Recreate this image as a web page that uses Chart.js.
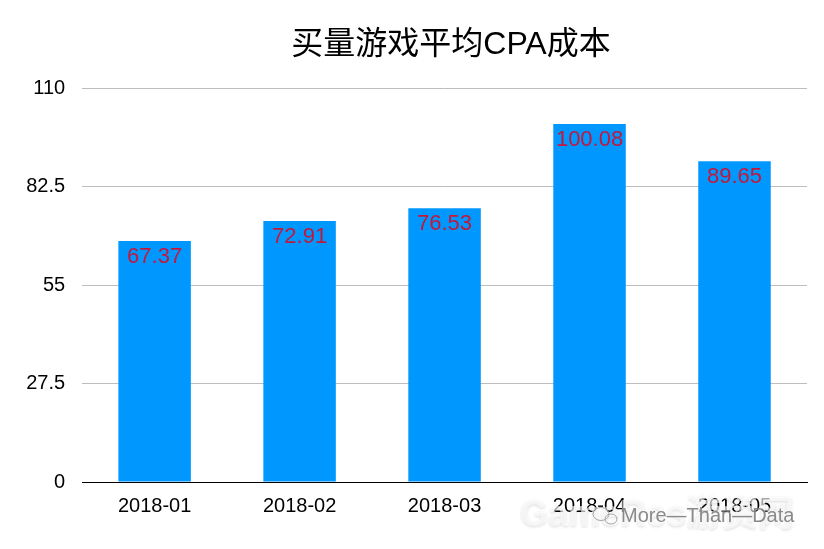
<!DOCTYPE html>
<html><head><meta charset="utf-8">
<style>html,body{margin:0;padding:0;background:#fff}canvas{display:block}</style>
<script src="https://cdn.jsdelivr.net/npm/chart.js@4"></script></head>
<body><canvas id="c" width="824" height="549" style="width:824px;height:549px"></canvas>
<script>
const categories=["2018-01","2018-02","2018-03","2018-04","2018-05"];
const values=[67.37,72.91,76.53,100.08,89.65];
const tickLabels=[0,27.5,55,82.5,110];
const titleText="买量游戏平均CPA成本";
const watermarkMain="GameRes游资网";
const watermarkSub="More—Than—Data";
const font='"Liberation Sans","Noto Sans CJK SC",sans-serif';
const labelPlugin={id:"barLabels",
 afterLayout(ch){const t=ch.titleBlock,d=451-(t.left+t.right)/2;t.left+=d;t.right+=d;},
 afterDraw(ch){
  const m=ch.getDatasetMeta(0),x=ch.ctx;x.save();
  x.font='22px '+font;x.fillStyle="#c2183a";x.textAlign="center";x.textBaseline="middle";
  m.data.forEach((b,i)=>x.fillText(values[i].toFixed(2),b.x,b.y+16));
  x.textAlign="left";
  x.font='bold 36px '+font;x.fillStyle="rgba(255,255,255,0.65)";
  x.shadowColor="rgba(0,0,0,0.22)";x.shadowBlur=3;x.shadowOffsetY=1;
  x.fillText(watermarkMain,520,516);
  x.shadowColor="rgba(255,255,255,0.9)";x.shadowBlur=2;x.shadowOffsetY=0;
  x.strokeStyle="rgba(130,130,130,0.7)";x.lineWidth=1;
  x.beginPath();x.ellipse(601,514,8,6.5,0,0,Math.PI*2);x.stroke();
  x.beginPath();x.ellipse(611,519,6,5,0,0,Math.PI*2);x.stroke();
  x.font='20px '+font;x.fillStyle="rgba(110,110,110,0.8)";
  x.fillText(watermarkSub,621,516);
  x.restore();}};
new Chart(document.getElementById("c"),{type:"bar",
 data:{labels:categories,datasets:[{data:values,backgroundColor:"#0098ff",categoryPercentage:0.5,barPercentage:1}]},
 plugins:[labelPlugin],
 options:{responsive:false,animation:false,devicePixelRatio:1,
  layout:{padding:{left:9.2,right:17,top:0,bottom:27}},
  plugins:{legend:{display:false},tooltip:{enabled:false},
   title:{display:true,text:titleText,color:"#000",fullSize:false,font:{family:font,size:32,weight:"normal"},padding:{top:26,bottom:24}}},
  scales:{
   x:{grid:{display:false},border:{color:"#000"},ticks:{color:"#000",font:{family:font,size:20},padding:4}},
   y:{min:0,max:110,afterBuildTicks(a){a.ticks=tickLabels.map(v=>({value:v}));},
      grid:{color:"#bdbdbd",drawTicks:false},border:{display:false},
      ticks:{color:"#000",font:{family:font,size:20},padding:17}}}}});
</script></body></html>
